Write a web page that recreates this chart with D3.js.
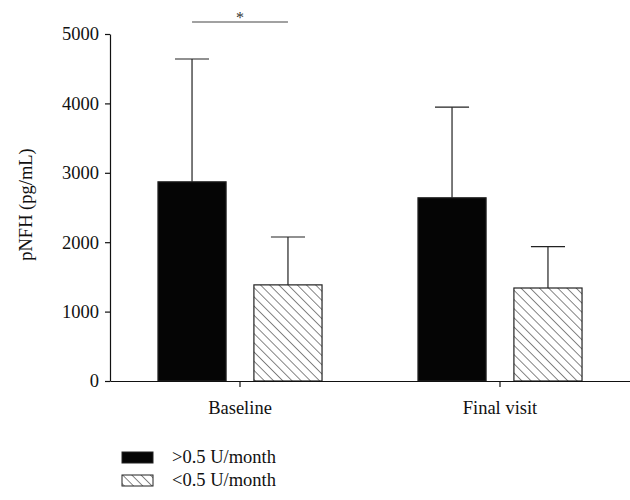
<!DOCTYPE html>
<html>
<head>
<meta charset="utf-8">
<script src="https://cdn.jsdelivr.net/npm/d3@7"></script>
<style>
  body { margin: 0; background: #fff; }
  svg text { font-family: "Liberation Serif", "DejaVu Serif", serif; fill: #111; }
</style>
</head>
<body>
<div id="chart"></div>
<script>
const categories = ["Baseline", "Final visit"];
const groups = [">0.5 U/month", "<0.5 U/month"];
const means = {
  ">0.5 U/month": [2870, 2640],
  "<0.5 U/month": [1385, 1340]
};
const upperErr = {
  ">0.5 U/month": [4640, 3945],
  "<0.5 U/month": [2075, 1935]
};
const yTicks = [0, 1000, 2000, 3000, 4000, 5000];

const width = 630;
const height = 500;
const margin = { top: 34, right: 0, bottom: 119, left: 110 };
const innerWidth = width - margin.left - margin.right;
const innerHeight = height - margin.top - margin.bottom;
const fontSize = 18.5;

const svg = d3.select("#chart")
  .append("svg")
  .attr("width", width)
  .attr("height", height);

const defs = svg.append("defs");
const hatch = defs.append("pattern")
  .attr("id", "hatch")
  .attr("patternUnits", "userSpaceOnUse")
  .attr("width", 6.5)
  .attr("height", 6.5)
  .attr("patternTransform", "rotate(-45)");
hatch.append("rect").attr("width", 6.5).attr("height", 6.5).attr("fill", "#fff");
hatch.append("line")
  .attr("x1", 0).attr("y1", 0).attr("x2", 0).attr("y2", 6.5)
  .attr("stroke", "#222").attr("stroke-width", 1.1);

const g = svg.append("g").attr("transform", `translate(${margin.left},${margin.top})`);

const x0 = d3.scaleBand().domain(categories).range([0, innerWidth]).paddingInner(0).paddingOuter(0);
const x1 = d3.scaleBand().domain(groups).range([0, x0.bandwidth()]).paddingInner(0.29).paddingOuter(0.5);
const y = d3.scaleLinear().domain([0, 5000]).range([innerHeight, 0]);

const fills = { ">0.5 U/month": "#050505", "<0.5 U/month": "url(#hatch)" };

// error bars (upper only)
categories.forEach((cat, i) => {
  groups.forEach(grp => {
    const cx = x0(cat) + x1(grp) + x1.bandwidth() / 2;
    const capHalf = x1.bandwidth() / 4;
    g.append("line")
      .attr("x1", cx).attr("x2", cx)
      .attr("y1", y(means[grp][i])).attr("y2", y(upperErr[grp][i]))
      .attr("stroke", "#222").attr("stroke-width", 1.2);
    g.append("line")
      .attr("x1", cx - capHalf).attr("x2", cx + capHalf)
      .attr("y1", y(upperErr[grp][i])).attr("y2", y(upperErr[grp][i]))
      .attr("stroke", "#222").attr("stroke-width", 1.2);
  });
});

// bars
categories.forEach((cat, i) => {
  groups.forEach(grp => {
    g.append("rect")
      .attr("x", x0(cat) + x1(grp))
      .attr("y", y(means[grp][i]))
      .attr("width", x1.bandwidth())
      .attr("height", innerHeight - y(means[grp][i]))
      .attr("fill", fills[grp])
      .attr("stroke", "#222")
      .attr("stroke-width", 1.2);
  });
});

// axes
const yAxis = g.append("g")
  .call(d3.axisLeft(y).tickValues(yTicks).tickSize(5).tickSizeOuter(0).tickFormat(d3.format("d")));
yAxis.select(".domain").attr("stroke", "#111").attr("stroke-width", 1.2);
yAxis.selectAll(".tick line").attr("stroke", "#111").attr("stroke-width", 1.2);
yAxis.selectAll(".tick text").attr("font-size", fontSize).attr("dx", "-3");

const xAxis = g.append("g")
  .attr("transform", `translate(0,${innerHeight})`)
  .call(d3.axisBottom(x0).tickSize(6).tickSizeOuter(0));
xAxis.select(".domain").attr("stroke", "#111").attr("stroke-width", 1.2);
xAxis.selectAll(".tick line").attr("stroke", "#111").attr("stroke-width", 1.2);
xAxis.selectAll(".tick text").attr("font-size", fontSize).attr("dy", "1.3em");
svg.selectAll(".tick text").style("font-family", "Liberation Serif, DejaVu Serif, serif");

// y label
g.append("text")
  .attr("transform", "rotate(-90)")
  .attr("x", -innerHeight / 2 + 3)
  .attr("y", -78)
  .attr("text-anchor", "middle")
  .attr("font-size", fontSize)
  .text("pNFH (pg/mL)");

// significance bracket
const sx1 = x0(categories[0]) + x1(groups[0]) + x1.bandwidth() / 2;
const sx2 = x0(categories[0]) + x1(groups[1]) + x1.bandwidth() / 2;
const sy = y(5000) - 12;
g.append("line")
  .attr("x1", sx1).attr("x2", sx2).attr("y1", sy).attr("y2", sy)
  .attr("stroke", "#444").attr("stroke-width", 1.2);
g.append("text")
  .attr("x", (sx1 + sx2) / 2)
  .attr("y", sy + 1)
  .attr("text-anchor", "middle")
  .attr("font-size", 16)
  .style("fill", "#333")
  .text("*");

// legend
const legend = svg.append("g").attr("transform", "translate(122,452)");
groups.forEach((grp, i) => {
  const row = legend.append("g").attr("transform", `translate(0,${i * 23})`);
  row.append("rect")
    .attr("width", 31).attr("height", 11)
    .attr("fill", fills[grp])
    .attr("stroke", "#222").attr("stroke-width", 1);
  row.append("text")
    .attr("x", 50).attr("y", 11)
    .attr("font-size", fontSize)
    .text(grp);
});
</script>
</body>
</html>
